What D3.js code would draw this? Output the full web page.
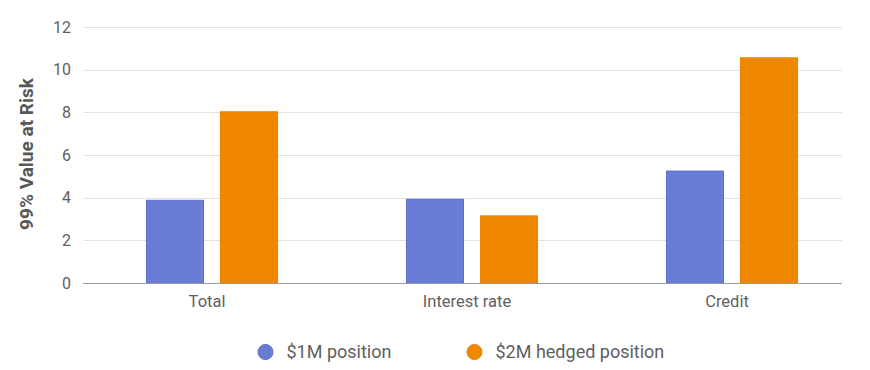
<!DOCTYPE html>
<html>
<head>
<meta charset="utf-8">
<script src="https://cdn.jsdelivr.net/npm/d3@7"></script>
<style>
  html, body { margin: 0; padding: 0; background: #fff; }
  svg { display: block; font-family: Roboto, "Noto Sans", sans-serif; }
</style>
</head>
<body>
<svg id="chart" width="870" height="370"></svg>
<script>
const categories = ["Total", "Interest rate", "Credit"];
const seriesNames = ["$1M position", "$2M hedged position"];
const position1M = [3.9, 3.95, 5.27];
const hedged2M = [8.05, 3.17, 10.58];
const yTicks = [0, 2, 4, 6, 8, 10, 12];
const yTitle = "99% Value at Risk";
const colors = ["#6a7dd5", "#ef8800"];
const strokes = ["#5a6ecf", "#e98300"];

(function () {
const svg = d3.select("#chart");
const plotLeft = 83, gridRight = 842, plotTop = 27, plotBottom = 283;

const x = d3.scaleBand().domain(categories).range([82, 862]).paddingInner(0.492).paddingOuter(0.246);
const xs = d3.scaleBand().domain(seriesNames).range([0, x.bandwidth()]).paddingInner(0.216).paddingOuter(0);
const y = d3.scaleLinear().domain([0, 12]).range([plotBottom, plotTop]);

// gridlines
svg.append("g").selectAll("line").data(yTicks.filter(d => d !== 0)).join("line")
  .attr("x1", plotLeft).attr("x2", gridRight)
  .attr("y1", d => Math.round(y(d)) + 0.5).attr("y2", d => Math.round(y(d)) + 0.5)
  .attr("stroke", "#e2e2e2").attr("stroke-width", 1);

// y tick labels
svg.append("g").selectAll("text").data(yTicks).join("text")
  .attr("x", 71).attr("y", d => y(d))
  .attr("dy", "0.35em")
  .attr("text-anchor", "end")
  .attr("font-size", 16).attr("fill", "#606060")
  .text(d => d);

// y title
svg.append("text")
  .attr("transform", "translate(33,154) rotate(-90)")
  .attr("text-anchor", "middle")
  .attr("font-size", 19).attr("font-weight", "bold").attr("fill", "#585858")
  .text(yTitle);

// bars
const rows = categories.map((c, i) => ({ cat: c, vals: [position1M[i], hedged2M[i]] }));
const groups = svg.append("g").selectAll("g").data(rows).join("g")
  .attr("transform", d => `translate(${x(d.cat)},0)`);
groups.selectAll("rect").data(d => d.vals.map((v, j) => ({ v, j }))).join("rect")
  .attr("x", d => xs(seriesNames[d.j]) + 0.5)
  .attr("y", d => y(d.v) + 0.5)
  .attr("width", xs.bandwidth() - 1)
  .attr("height", d => y(0) - y(d.v) - 0.5)
  .attr("fill", d => colors[d.j])
  .attr("stroke", d => strokes[d.j])
  .attr("stroke-width", 1);

// baseline
svg.append("line")
  .attr("x1", plotLeft).attr("x2", gridRight)
  .attr("y1", Math.round(y(0)) + 0.5).attr("y2", Math.round(y(0)) + 0.5)
  .attr("stroke", "#9a9a9a").attr("stroke-width", 1.2);

// x labels
svg.append("g").selectAll("text").data(categories).join("text")
  .attr("x", d => x(d) + x.bandwidth() / 2 - 5)
  .attr("y", 307)
  .attr("text-anchor", "middle")
  .attr("font-size", 16.5).attr("fill", "#606060")
  .text(d => d);

// legend
const legendX = [265.5, 474.5];
const lg = svg.append("g").selectAll("g").data(seriesNames).join("g")
  .attr("transform", (d, i) => `translate(${legendX[i]},352)`);
lg.append("circle").attr("r", 7.5).attr("fill", (d, i) => colors[i]).attr("stroke", (d, i) => strokes[i]);
lg.append("text").attr("x", 21).attr("dy", "0.35em")
  .attr("font-size", 18).attr("fill", "#606060")
  .text(d => d);
})();
</script>
</body>
</html>
